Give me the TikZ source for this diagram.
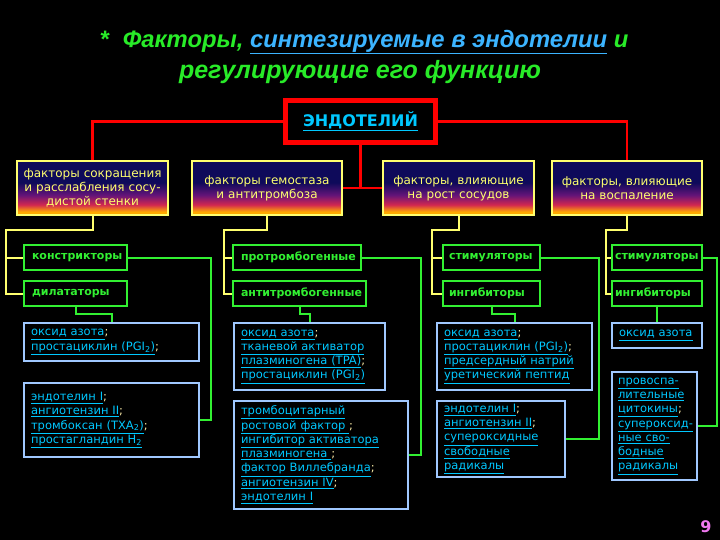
\documentclass[tikz,border=0pt]{standalone}
\usepackage{fontspec}
\setmainfont{DejaVu Sans}
\newfontfamily\ttlfont{Liberation Sans}
\usepackage{tikz}
\usetikzlibrary{calc}
\definecolor{ttlgreen}{RGB}{40,235,40}
\definecolor{ttlblue}{RGB}{60,180,255}
\definecolor{endored}{RGB}{255,0,0}
\definecolor{fyel}{RGB}{255,255,110}
\definecolor{rgreen}{RGB}{50,240,50}
\definecolor{lblue}{RGB}{160,200,255}
\definecolor{lcyan}{RGB}{0,200,255}
\definecolor{semic}{RGB}{255,240,170}
\definecolor{pnum}{RGB}{240,120,240}
\definecolor{gnavy}{RGB}{14,10,90}
\definecolor{gpurple}{RGB}{100,20,120}
\definecolor{gred}{RGB}{210,40,80}
\definecolor{gorange}{RGB}{255,170,0}
\pgfdeclareverticalshading{fgrad}{100bp}{color(0bp)=(gorange); color(28bp)=(gorange);
  color(34.5bp)=(gred); color(43.5bp)=(gpurple); color(55bp)=(gnavy); color(100bp)=(gnavy)}
\newcommand{\lnk}[1]{\underline{#1}}
\newcommand{\sm}{\textcolor{semic}{;}}

\begin{document}
\begin{tikzpicture}[x=1pt,y=-1pt,
    ttl/.style={text=ttlgreen,font={\ttlfont\bfseries\itshape\fontsize{25}{30}\selectfont}},
    fbox/.style={draw=fyel,line width=1.5pt,shade,shading=fgrad,text=fyel,align=center,
      minimum height=54pt,inner sep=2pt,font={\fontsize{12}{14}\selectfont}},
    rbox/.style={draw=rgreen,line width=1.5pt,fill=black,text=rgreen,align=left,
      minimum height=25pt,inner xsep=8pt,inner ysep=0pt,font={\bfseries\fontsize{11}{13}\selectfont}},
    lbox/.style={draw=lblue,line width=1.5pt,fill=black,text=lcyan,align=left,
      inner xsep=7pt,inner ysep=2pt,font={\fontsize{11.5}{14.3}\selectfont}},
    rln/.style={draw=endored,line width=2.5pt},
    yln/.style={draw=fyel,line width=2pt},
    gln/.style={draw=rgreen,line width=2pt}]
  \useasboundingbox (0,0) rectangle (720,540);
  \fill[black] (0,0) rectangle (720,540);
  % title
  \node[ttl,font={\ttlfont\bfseries\itshape\fontsize{23.8}{30}\selectfont}] (t1) at (364,42)
    {*\hspace{14pt}Факторы, \textcolor{ttlblue}{\underline{синтезируемые в эндотелии}} и};
  \node[ttl] (t2) at (360,72) {регулирующие его функцию};
  % endothelium
  \node[draw=endored,line width=5pt,minimum width=150pt,minimum height=42pt,text=lcyan,
    font={\bfseries\fontsize{16}{18}\selectfont}] (endo) at (360.5,121.5) {\lnk{ЭНДОТЕЛИЙ}};
  % factor groups
  \node[fbox,minimum width=151pt,text width=145pt] (f1) at (92.5,188) {факторы сокращения\\и расслабления сосу-\\дистой стенки};
  \node[fbox,minimum width=150pt,text width=145pt] (f2) at (267,188) {факторы гемостаза\\и антитромбоза};
  \node[fbox,minimum width=151pt,text width=145pt] (f3) at (458.5,188) {факторы, влияющие\\на рост сосудов};
  \node[fbox,minimum width=150pt,text width=145pt] (f4) at (627,188) {факторы, влияющие\\на воспаление};
  % red links
  \draw[rln] (endo.west) -| (f1.north);
  \draw[rln] (endo.east) -| (f4.north);
  \draw[rln] (endo.south) -- (endo.south |- f2.east);
  \draw[rln] (f2.east) -- (f3.west);
  % upper and lower kinds
  \node[rbox,text width=87pt] (s1) at (75.5,257.5) {констрикторы};
  \node[rbox,text width=87pt] (i1) at (75.5,293.5) {дилататоры};
  \node[rbox,text width=112pt] (s2) at (297,257.5) {протромбогенные};
  \node[rbox,text width=117pt] (i2) at (299.5,293.5) {антитромбогенные};
  \node[rbox,text width=85pt,inner xsep=6pt] (s3) at (491.5,257.5) {стимуляторы};
  \node[rbox,text width=85pt,inner xsep=6pt] (i3) at (491.5,293.5) {ингибиторы};
  \node[rbox,text width=84pt,inner xsep=3pt] (s4) at (657,257.5) {стимуляторы};
  \node[rbox,text width=84pt,inner xsep=3pt] (i4) at (657,293.5) {ингибиторы};
  % yellow buses
  \foreach \i/\x in {1/6,2/224,3/432,4/606} {
    \coordinate (b\i) at (\x,230);
    \draw[yln] (f\i.south) |- (b\i) |- (i\i.west);
    \draw[yln] (b\i |- s\i.west) -- (s\i.west);
  }
  % substance lists
  \node[lbox,text width=161pt,minimum height=38pt] (l1) at (111.5,342)
    {\lnk{оксид азота}\sm\\\lnk{простациклин (PGI\textsubscript{2})}\sm};
  \node[lbox,text width=161pt,minimum height=74pt] (l2) at (111.5,420)
    {\lnk{эндотелин I}\sm\\\lnk{ангиотензин II}\sm\\\lnk{тромбоксан (TXA\textsubscript{2})}\sm\\\lnk{простагландин H\textsubscript{2}}};
  \node[lbox,text width=137pt,minimum height=67pt] (l3) at (309.5,356.5)
    {\lnk{оксид азота}\sm\\\lnk{тканевой активатор}\\\lnk{плазминогена (TPA)}\sm\\\lnk{простациклин (PGI\textsubscript{2})}};
  \node[lbox,text width=160pt,minimum height=108pt] (l4) at (321,455)
    {\lnk{тромбоцитарный}\\\lnk{ростовой фактор }\sm\\\lnk{ингибитор активатора}\\\lnk{плазминогена }\sm\\\lnk{фактор Виллебранда}\sm\\\lnk{ангиотензин IV}\sm\\\lnk{эндотелин I}};
  \node[lbox,text width=141pt,minimum height=67pt] (l5) at (514.5,356.5)
    {\lnk{оксид азота}\sm\\\lnk{простациклин (PGI\textsubscript{2})}\sm\\\lnk{предсердный натрий}\\\lnk{уретический пептид}};
  \node[lbox,text width=114pt,minimum height=76pt] (l6) at (501,439)
    {\lnk{эндотелин I}\sm\\\lnk{ангиотензин II}\sm\\\lnk{супероксидные}\\\lnk{свободные}\\\lnk{радикалы}};
  \node[lbox,text width=76pt,minimum height=25pt] (l7) at (657,335.5) {\lnk{оксид азота}};
  \node[lbox,text width=73pt,inner xsep=6pt,minimum height=108pt] (l8) at (654.5,426)
    {\lnk{провоспа-}\\\lnk{лительные}\\\lnk{цитокины}\sm\\\lnk{супероксид-}\\\lnk{ные сво-}\\\lnk{бодные}\\\lnk{радикалы}};
  % green links
  \draw[gln] (s1.east) -- ++(83,0) |- (l2.east);
  \draw[gln] (s2.east) -- ++(59,0) |- (l4.east);
  \draw[gln] (s3.east) -- ++(58,0) |- (l6.east);
  \draw[gln] (s4.east) -- ++(14,0) |- (l8.east);
  \draw[gln] (i1.south) -- ++(0,7) -| (l1.north);
  \draw[gln] (i2.south) -- ++(0,7) -| (l3.north);
  \draw[gln] (i3.south) -- ++(0,7) -| (l5.north);
  \draw[gln] (i4.south) -- (l7.north);
  % page number
  \node[text=pnum,font={\bfseries\fontsize{16}{18}\selectfont}] (pg) at (706,527) {9};
\end{tikzpicture}
\end{document}
